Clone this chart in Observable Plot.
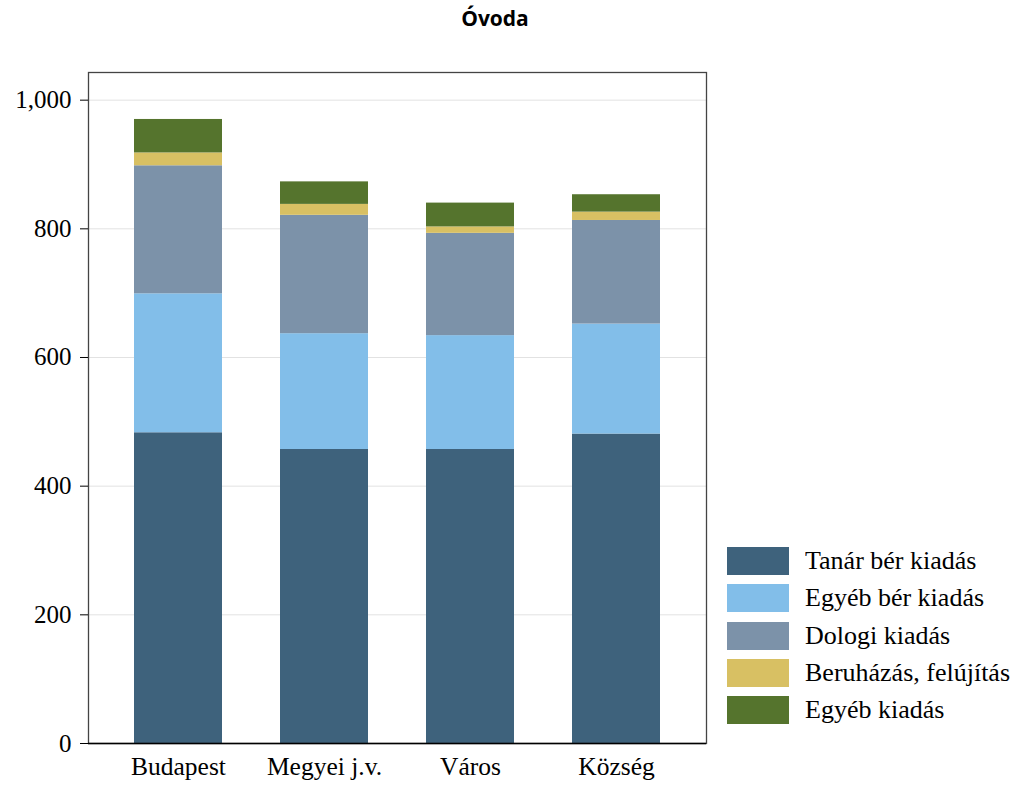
<!DOCTYPE html>
<html>
<head>
<meta charset="utf-8">
<script src="https://cdn.jsdelivr.net/npm/d3@7"></script>
<script src="https://cdn.jsdelivr.net/npm/@observablehq/plot@0.6"></script>
<style>
  html, body { margin: 0; padding: 0; background: #fff; }
  #wrap { position: relative; width: 1022px; height: 789px; overflow: hidden; }
  #title { position: absolute; left: 0; width: 990px; top: 4px; text-align: center;
           font-family: "Open Sans", sans-serif; font-weight: 700; font-size: 21px; color: #000; }
  #chart { position: absolute; left: 0; top: 0; }
  #legend { position: absolute; left: 727px; top: 547px; }
  #legend, #legend * { font-family: "Liberation Serif", "Times New Roman", serif !important; font-size: 26px !important; color: #000 !important; }
  #legend > div { margin: 0 !important; min-height: 0 !important; }
  #legend > div > div { height: 28px !important; line-height: 28px !important; margin: 0 0 9.3px 0 !important; padding: 0 !important; }
  #legend > div > div > svg { margin-right: 16px !important; }
</style>
</head>
<body>
<div id="wrap">
  <div id="chart"></div>
  <div id="title">Óvoda</div>
  <div id="legend"></div>
</div>
<script>
const categories = ["Budapest", "Megyei j.v.", "Város", "Község"];
const seriesNames = ["Tanár bér kiadás", "Egyéb bér kiadás", "Dologi kiadás", "Beruházás, felújítás", "Egyéb kiadás"];
const seriesColors = ["#3e627c", "#82bee9", "#7c92a9", "#d8c063", "#55742d"];
const tanarBer   = [483, 457, 457, 481];
const egyebBer   = [216, 180, 177, 171];
const dologi     = [199, 184, 159, 161];
const beruhazas  = [20, 17, 10, 13];
const egyebKiad  = [52, 35, 37, 27];
const yTicks = [0, 200, 400, 600, 800, 1000];

const seriesValues = [tanarBer, egyebBer, dologi, beruhazas, egyebKiad];
const rows = [];
seriesNames.forEach((s, si) => {
  categories.forEach((c, ci) => rows.push({category: c, series: s, value: seriesValues[si][ci]}));
});

const color = {domain: seriesNames, range: seriesColors};

const chart = Plot.plot({
  width: 1022,
  height: 789,
  marginLeft: 88,
  marginRight: 316,
  marginTop: 72,
  marginBottom: 46,
  style: {fontFamily: "Liberation Serif, Times New Roman, serif", fontSize: "24px", color: "#000", background: "#fff"},
  x: {domain: categories, paddingInner: 0.395, paddingOuter: 0.3, label: null},
  y: {domain: [0, 1043], label: null},
  color,
  marks: [
    Plot.gridY(yTicks, {stroke: "#e2e2e2", strokeOpacity: 1}),
    Plot.barY(rows, {x: "category", y: "value", fill: "series", order: seriesNames, inset: 0}),
    Plot.frame({stroke: "#444", strokeWidth: 1.3}),
    Plot.ruleY([0], {stroke: "#000", strokeWidth: 1.6}),
    Plot.axisY({ticks: yTicks, tickFormat: d3.format(","), tickSize: 8, tickPadding: 9, label: null, fontSize: 25}),
    Plot.axisX({tickSize: 0, tickPadding: 13, label: null, fontSize: 25.5})
  ]
});
document.getElementById("chart").appendChild(chart);

const legend = Plot.legend({
  color,
  legend: "swatches",
  columns: 1,
  swatchWidth: 62,
  swatchHeight: 28,
  style: {fontFamily: "Liberation Serif, Times New Roman, serif", fontSize: "26px", color: "#000"}
});
document.getElementById("legend").appendChild(legend);
</script>
</body>
</html>
